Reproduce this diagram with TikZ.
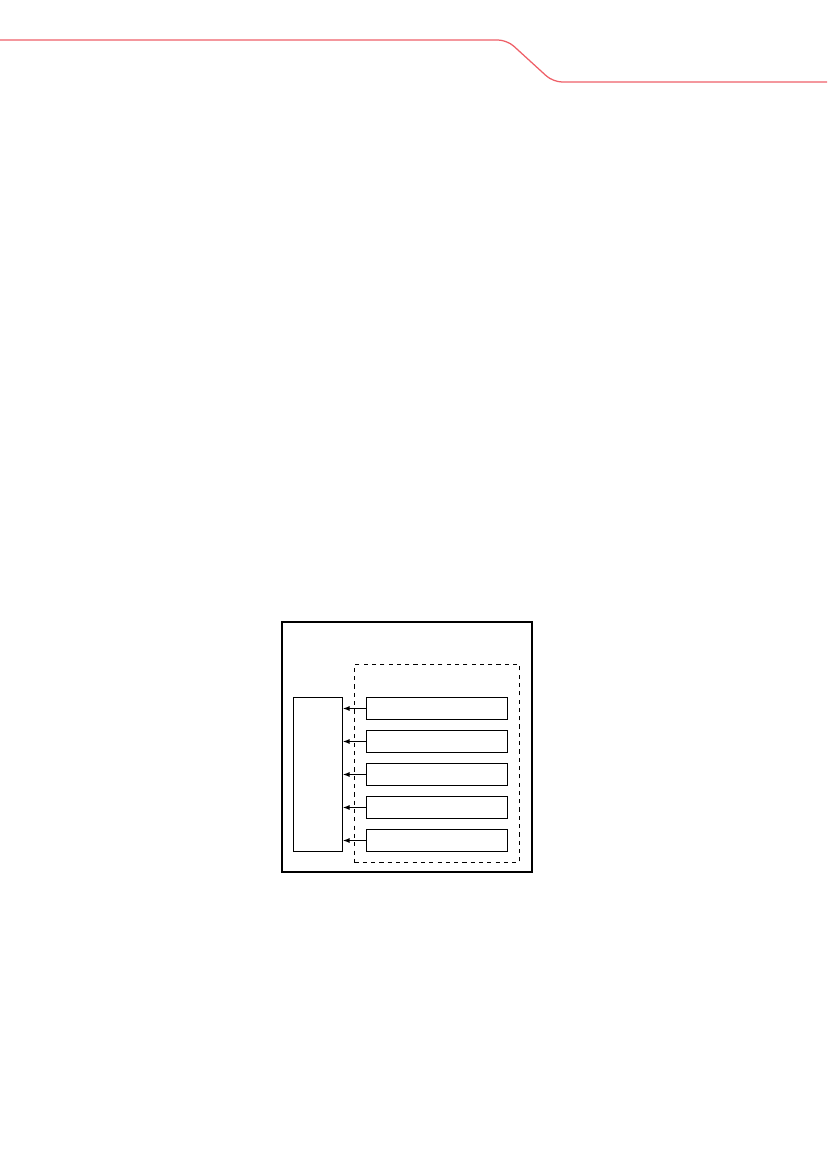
\documentclass[tikz,border=0pt]{standalone}
\usetikzlibrary{arrows.meta}

\newcommand{\px}{0.254mm}

\tikzset{
    box/.style={draw, line width=0.25mm, anchor=north west, inner sep=0pt},
    slot/.style={box, minimum width=141*\px, minimum height=22*\px},
    feed/.style={-{Latex[length=1.7mm,width=1.3mm]}, line width=0.25mm}
}

\begin{document}
\begin{tikzpicture}[x=\px, y=-\px]
    % Page frame
    \useasboundingbox (0,0) rectangle (827,1170);

    % Red header rule with the step
    \draw[line width=0.32mm, color={rgb,255:red,238;green,96;blue,104}, rounded corners=9*\px]
        (0,40) -- (507,40) -- (553,82) -- (827,82);

    % Outer frame
    \node[box, line width=0.38mm, minimum width=250*\px, minimum height=250*\px] (frame) at (281,621) {};

    % Dashed group
    \node[box, dashed, minimum width=165*\px, minimum height=198*\px] (group) at (354,664) {};

    % Tall box on the left
    \node[box, minimum width=49*\px, minimum height=154*\px] (sink) at (293,697) {};

    % Five slots and their arrows
    \foreach \i in {0,...,4} {
        \node[slot] (slot\i) at (366,697+33*\i) {};
        \draw[feed] (slot\i.west) -- (slot\i.west -| sink.east);
    }

\end{tikzpicture}
\end{document}
